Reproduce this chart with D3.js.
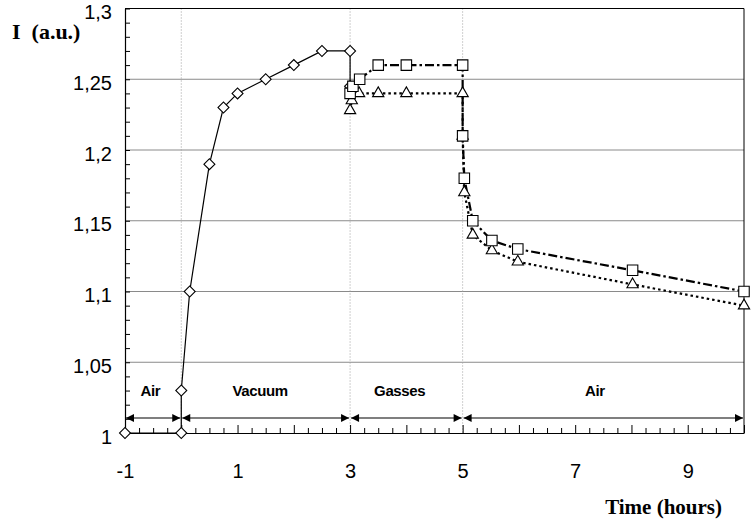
<!DOCTYPE html>
<html>
<head>
<meta charset="utf-8">
<script src="https://cdn.jsdelivr.net/npm/d3@7"></script>
<style>
  body { margin: 0; background: #fff; }
  svg { display: block; }
  .lbl { font-family: "Liberation Sans", Arial, sans-serif; font-size: 20px; fill: #000; }
  .phase { font-family: "Liberation Sans", Arial, sans-serif; font-size: 15px; font-weight: bold; letter-spacing: -0.4px; }
  .title { font-family: "Liberation Serif", "Times New Roman", serif; font-size: 21px; font-weight: bold; white-space: pre; }
</style>
</head>
<body>
<svg id="chart"></svg>
<script>
// diamonds: vacuum run
const vacTime = [-1, 0, 0, 0.15, 0.5, 0.75, 1, 1.5, 2, 2.5, 3, 3];
const vacI    = [1.0, 1.0, 1.03, 1.10, 1.19, 1.23, 1.24, 1.25, 1.26, 1.27, 1.27, 1.245];

// squares
const sqTime = [3, 3.05, 3.17, 3.5, 4, 5, 5, 5.03, 5.18, 5.52, 5.98, 8.02, 10];
const sqI    = [1.24, 1.245, 1.25, 1.26, 1.26, 1.26, 1.21, 1.18, 1.15, 1.136, 1.13, 1.115, 1.10];

// triangles
const trTime = [3, 3.03, 3.16, 3.5, 4, 5, 5, 5.03, 5.18, 5.52, 5.98, 8.02, 10];
const trI    = [1.228, 1.235, 1.24, 1.24, 1.24, 1.24, 1.21, 1.17, 1.14, 1.129, 1.121, 1.105, 1.09];

// phases along the bottom
const phaseNames = ['Air', 'Vacuum', 'Gasses', 'Air'];
const phaseStart = [-1, 0, 3, 5];
const phaseEnd   = [0, 3, 5, 10];
const phaseLabelAt = [-0.55, 1.4, 3.88, 7.35];

const xTicks = [-1, 1, 3, 5, 7, 9];
const yTicks = [1, 1.05, 1.1, 1.15, 1.2, 1.25, 1.3];
const vGrid = [0, 3, 5];

const W = 755, H = 522;
const margin = {top: 8.5, right: 11, bottom: 89, left: 125};
const width = W - margin.left - margin.right;
const height = H - margin.top - margin.bottom;

const svg = d3.select('#chart').attr('width', W).attr('height', H);
const g = svg.append('g').attr('transform', `translate(${margin.left},${margin.top})`);

const x = d3.scaleLinear().domain([-1, 10]).range([0, width]);
const y = d3.scaleLinear().domain([1, 1.3]).range([height, 0]);

const commaFmt = d3.formatLocale({decimal: ',', thousands: '.', grouping: [3], currency: ['', '']}).format('~g');

// horizontal grid
g.append('g').selectAll('line')
    .data(yTicks.filter(d => d > 1 && d < 1.3))
  .join('line')
    .attr('x1', 0).attr('x2', width)
    .attr('y1', d => y(d)).attr('y2', d => y(d))
    .attr('stroke', '#8a8a8a').attr('stroke-width', 1);

// vertical dotted grid
g.append('g').selectAll('line')
    .data(vGrid)
  .join('line')
    .attr('x1', d => x(d)).attr('x2', d => x(d))
    .attr('y1', 0).attr('y2', height)
    .attr('stroke', '#a0a0a0').attr('stroke-width', 1)
    .attr('stroke-dasharray', '1,2');

// frame: top & right
g.append('line').attr('x1', 0).attr('x2', width).attr('y1', 0).attr('y2', 0).attr('stroke', '#000');
g.append('line').attr('x1', width).attr('x2', width).attr('y1', 0).attr('y2', height).attr('stroke', '#000');

// y minor ticks (every 0.01, inside)
const yMinor = d3.range(0, 31).map(i => 1 + i * 0.01);
g.append('g')
    .call(d3.axisRight(y).tickValues(yMinor).tickSize(5).tickFormat('').tickSizeOuter(0))
    .call(a => a.selectAll('line').attr('stroke', '#000'))
    .call(a => a.select('.domain').attr('stroke', '#000').attr('stroke-width', 1.2));

// y labels
g.append('g')
    .call(d3.axisLeft(y).tickValues(yTicks).tickSize(0).tickPadding(13).tickFormat(commaFmt))
    .call(a => a.select('.domain').remove())
    .call(a => a.selectAll('text').attr('class', 'lbl').attr('dy', '0.5em').style('font-size', null).style('font-family', null));

// x minor ticks (every quarter hour, inside)
const xMinor = d3.range(0, 45).map(i => -1 + i * 0.25);
g.append('g')
    .attr('transform', `translate(0,${height})`)
    .call(d3.axisTop(x).tickValues(xMinor).tickSize(5).tickFormat('').tickSizeOuter(0))
    .call(a => a.selectAll('.tick line').attr('y2', d => Number.isInteger(d) ? -8 : -5).attr('stroke', '#000'))
    .call(a => a.select('.domain').attr('stroke', '#000').attr('stroke-width', 1.2));

// x labels
g.append('g')
    .attr('transform', `translate(0,${height})`)
    .call(d3.axisBottom(x).tickValues(xTicks).tickSize(0).tickPadding(31).tickFormat(d => d3.format('')(d).replace('−', '-')))
    .call(a => a.select('.domain').remove())
    .call(a => a.selectAll('text').attr('class', 'lbl').style('font-size', null).style('font-family', null));

// axis titles
svg.append('text').attr('class', 'title').attr('x', 12).attr('y', 39).style('font-size', '22px').text('I  (a.u.)');
svg.append('text').attr('class', 'title').attr('x', 722).attr('y', 514)
    .attr('text-anchor', 'end').text('Time (hours)');

// phase arrows
const defs = svg.append('defs');
defs.append('marker')
    .attr('id', 'arr').attr('viewBox', '0 0 10 10')
    .attr('refX', 10).attr('refY', 5)
    .attr('markerWidth', 10).attr('markerHeight', 8)
    .attr('markerUnits', 'userSpaceOnUse')
    .attr('orient', 'auto-start-reverse')
  .append('path').attr('d', 'M0,0 L10,5 L0,10 Z').attr('fill', '#000');

const arrowY = height - 15;
const phases = phaseNames.map((n, i) => ({name: n, s: phaseStart[i], e: phaseEnd[i], at: phaseLabelAt[i]}));
g.append('g').selectAll('line')
    .data(phases)
  .join('line')
    .attr('x1', d => x(d.s) + 1).attr('x2', d => x(d.e) - 1)
    .attr('y1', arrowY).attr('y2', arrowY)
    .attr('stroke', '#000').attr('stroke-width', 1.2)
    .attr('marker-start', 'url(#arr)').attr('marker-end', 'url(#arr)');
g.append('g').selectAll('text')
    .data(phases)
  .join('text')
    .attr('class', 'phase')
    .attr('x', d => x(d.at)).attr('y', arrowY - 22)
    .attr('text-anchor', 'middle')
    .text(d => d.name);

// series
const zip = (xs, ys) => xs.map((t, i) => ({t, v: ys[i]}));
const series = [
  {pts: zip(vacTime, vacI), dash: null, shape: d3.symbolSquare, size: 60, rot: 45},
  {pts: zip(trTime, trI), dash: '2.5,3', shape: d3.symbolTriangle, size: 55, rot: 0},
  {pts: zip(sqTime, sqI), dash: '9,3,2.5,3', shape: d3.symbolSquare, size: 110, rot: 0}
];
const line = d3.line().x(d => x(d.t)).y(d => y(d.v));

series.forEach(s => {
  g.append('path')
      .datum(s.pts)
      .attr('d', line)
      .attr('fill', 'none')
      .attr('stroke', '#000')
      .attr('stroke-width', s.dash ? 2.2 : 1.2)
      .attr('stroke-dasharray', s.dash);
});

series.forEach(s => {
  g.append('g').selectAll('path')
      .data(s.pts)
    .join('path')
      .attr('transform', d => `translate(${x(d.t)},${y(d.v)}) rotate(${s.rot})`)
      .attr('d', d3.symbol().type(s.shape).size(s.size))
      .attr('fill', '#fff')
      .attr('stroke', '#000')
      .attr('stroke-width', 1.1);
});
</script>
</body>
</html>
